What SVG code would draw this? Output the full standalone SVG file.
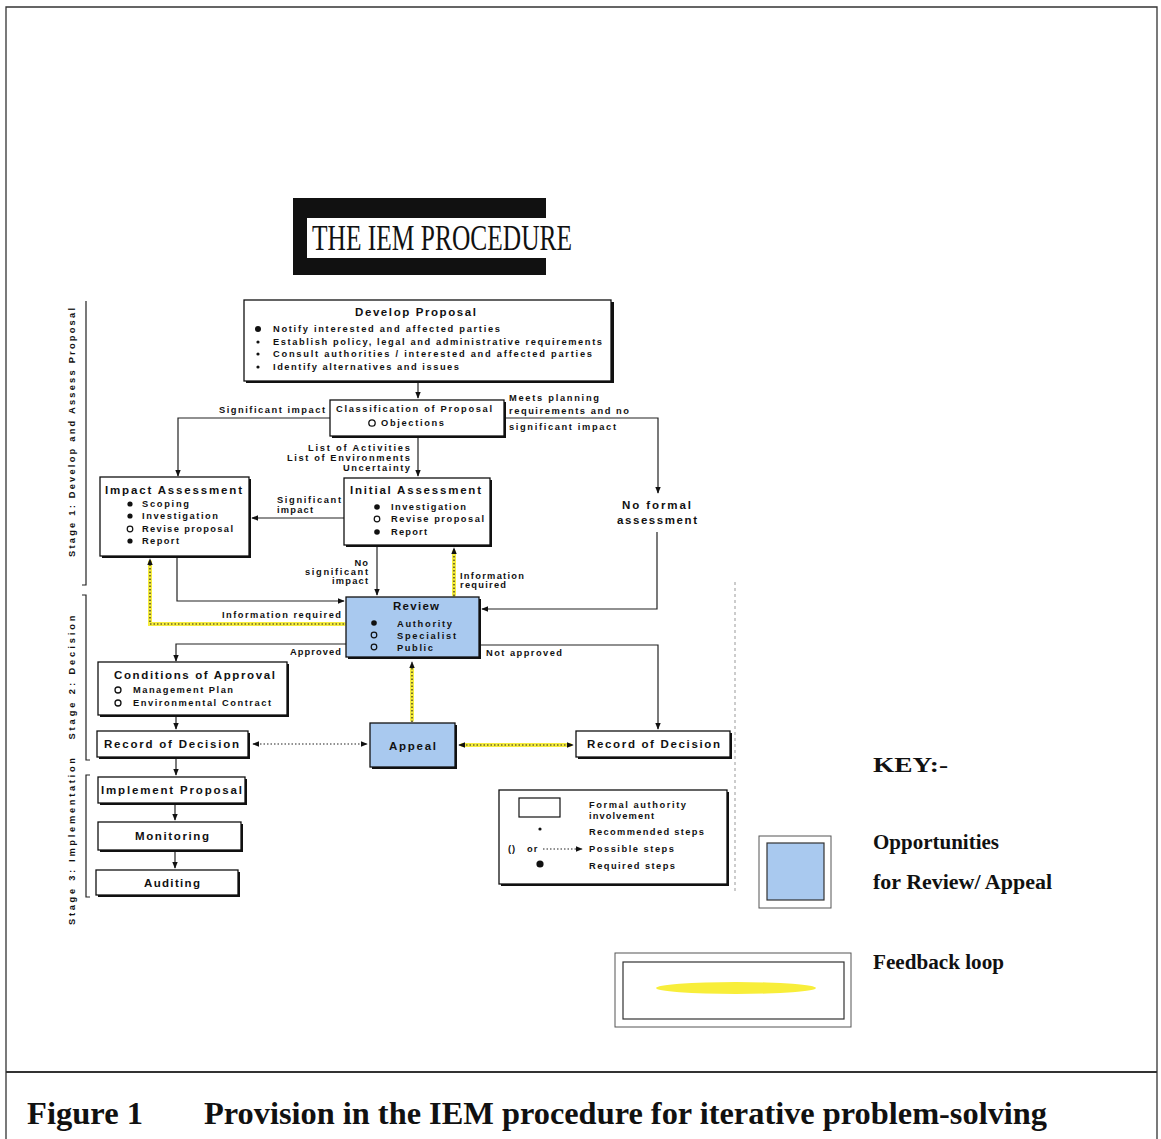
<svg xmlns="http://www.w3.org/2000/svg" width="1161" height="1139" viewBox="0 0 1161 1139">
<defs>
<style>
.t{font-family:"Liberation Sans",Arial,sans-serif;font-weight:bold;font-size:9.3px;fill:#111;letter-spacing:1px}
.h{font-family:"Liberation Sans",Arial,sans-serif;font-weight:bold;font-size:11.5px;fill:#111;letter-spacing:1px}
.s{font-family:"Liberation Serif","Times New Roman",serif;font-weight:bold;fill:#111}
.box{fill:#fff;stroke:#111;stroke-width:1.3}
.blue{fill:#a9c9ef;stroke:#111;stroke-width:1.3}
.sh{fill:#111}
.ln{fill:none;stroke:#222;stroke-width:1.2}
.dot{fill:none;stroke:#222;stroke-width:1.2;stroke-dasharray:1.5 2}
.yel{fill:none;stroke:#f4ea2a;stroke-width:4;stroke-linecap:round;opacity:0.9}
</style>
<marker id="ar" viewBox="0 0 10 10" refX="9" refY="5" markerWidth="6" markerHeight="6" orient="auto-start-reverse">
<path d="M0,1 L10,5 L0,9 z" fill="#111"/>
</marker>
</defs>
<rect width="1161" height="1139" fill="#fff"/>
<g id="frame" fill="none" stroke="#333" stroke-width="1.3">
<path d="M6 1139 V7 H1157 V1139"/>
<line x1="6" y1="1072" x2="1157" y2="1072" stroke-width="1.8"/>
<line x1="735" y1="582" x2="735" y2="892" stroke="#999" stroke-width="1" stroke-dasharray="3 3"/>
</g>
<g id="title">
<rect x="293" y="198" width="253" height="77" fill="#111"/>
<rect x="307" y="218" width="266" height="40" fill="#fff"/>
<text x="312" y="250" font-family="'Liberation Serif','Times New Roman',serif" font-size="36" fill="#111" textLength="260" lengthAdjust="spacingAndGlyphs">THE IEM PROCEDURE</text>
</g>
<g id="stages">
<path class="ln" d="M86 301 V585 H82"/>
<path class="ln" d="M82 595 H86 V760 H90"/>
<path class="ln" d="M90 775 H86 V897 H90"/>
<text class="t" transform="translate(75 432) rotate(-90)" text-anchor="middle" textLength="250" lengthAdjust="spacing">Stage 1: Develop and Assess Proposal</text>
<text class="t" transform="translate(75 677) rotate(-90)" text-anchor="middle" textLength="125" lengthAdjust="spacing">Stage 2: Decision</text>
<text class="t" transform="translate(75 841) rotate(-90)" text-anchor="middle" textLength="168" lengthAdjust="spacing">Stage 3: Implementation</text>
</g>
<g id="connectors">
<path class="ln" d="M418 382 V398" marker-end="url(#ar)"/>
<path class="ln" d="M330 418 H178 V476" marker-end="url(#ar)"/>
<path class="ln" d="M504 418 H658 V493" marker-end="url(#ar)"/>
<path class="ln" d="M418 436 V476" marker-end="url(#ar)"/>
<path class="ln" d="M344 518 H252" marker-end="url(#ar)"/>
<path class="ln" d="M657 532 V609 H482" marker-end="url(#ar)"/>
<path class="ln" d="M377 546 V595" marker-end="url(#ar)"/>
<path class="ln" d="M177 556 V601 H344" marker-end="url(#ar)"/>
<path class="yel" d="M344 624 H150 V562"/>
<path class="dot" d="M344 624 H150 V559" marker-end="url(#ar)"/>
<path class="yel" d="M454 595 V552"/>
<path class="dot" d="M454 596 V548" marker-end="url(#ar)"/>
<path class="ln" d="M346 644 H176 V661" marker-end="url(#ar)"/>
<path class="ln" d="M480 645 H658 V729" marker-end="url(#ar)"/>
<path class="ln" d="M176 716 V729" marker-end="url(#ar)"/>
<path class="ln" d="M176 757 V775" marker-end="url(#ar)"/>
<path class="ln" d="M175 804 V820" marker-end="url(#ar)"/>
<path class="ln" d="M175 852 V868" marker-end="url(#ar)"/>
<path class="dot" d="M253 744 H367" marker-start="url(#ar)" marker-end="url(#ar)"/>
<path class="yel" d="M462 745 H570"/>
<path class="dot" d="M459 745 H573" marker-start="url(#ar)" marker-end="url(#ar)"/>
<path class="yel" d="M412 720 V667"/>
<path class="dot" d="M412 722 V662" marker-end="url(#ar)"/>
<text class="t" x="326" y="413" text-anchor="end" textLength="107">Significant impact</text>
<text class="t" x="509" y="401" textLength="91">Meets planning</text>
<text class="t" x="509" y="414" textLength="121">requirements and no</text>
<text class="t" x="509" y="430" textLength="108">significant impact</text>
<text class="t" x="411" y="451" text-anchor="end" textLength="103">List of Activities</text>
<text class="t" x="411" y="461" text-anchor="end" textLength="124">List of Environments</text>
<text class="t" x="411" y="471" text-anchor="end" textLength="68">Uncertainty</text>
<text class="t" x="277" y="503" textLength="65">Significant</text>
<text class="t" x="277" y="513" textLength="37">impact</text>
<text class="t" x="369" y="566" text-anchor="end">No</text>
<text class="t" x="369" y="575" text-anchor="end" textLength="64">significant</text>
<text class="t" x="369" y="584" text-anchor="end" textLength="37">impact</text>
<text class="t" x="460" y="579" textLength="65">Information</text>
<text class="t" x="460" y="588" textLength="47">required</text>
<text class="t" x="222" y="618" textLength="120">Information required</text>
<text class="t" x="342" y="655" text-anchor="end" textLength="52">Approved</text>
<text class="t" x="486" y="656" textLength="77">Not approved</text>
</g>
<g id="develop-proposal">
<rect class="sh" x="246" y="302" width="368" height="81"/>
<rect class="box" x="244" y="300" width="367" height="81"/>
<text class="h" x="355" y="316" textLength="122">Develop Proposal</text>
<circle cx="258" cy="329" r="3" fill="#111"/>
<circle cx="258" cy="342" r="1.6" fill="#111"/>
<circle cx="258" cy="354" r="1.6" fill="#111"/>
<circle cx="258" cy="367" r="1.6" fill="#111"/>
<text class="t" x="273" y="332" textLength="228">Notify interested and affected parties</text>
<text class="t" x="273" y="345" textLength="330">Establish policy, legal and administrative requirements</text>
<text class="t" x="273" y="357" textLength="320">Consult authorities / interested and affected parties</text>
<text class="t" x="273" y="370" textLength="187">Identify alternatives and issues</text>
</g>
<g id="classification">
<rect class="sh" x="332" y="402" width="174" height="36"/>
<rect class="box" x="330" y="400" width="174" height="36"/>
<text class="t" x="336" y="412" textLength="157">Classification of Proposal</text>
<circle cx="372" cy="423" r="3.2" fill="none" stroke="#111" stroke-width="1.3"/>
<text class="t" x="381" y="426" textLength="64">Objections</text>
</g>
<g id="impact-assessment">
<rect class="sh" x="102" y="479" width="149" height="79"/>
<rect class="box" x="100" y="477" width="149" height="79"/>
<text class="h" x="105" y="494" textLength="138">Impact Assessment</text>
<circle cx="130" cy="504" r="2.6" fill="#111"/>
<circle cx="130" cy="516" r="2.6" fill="#111"/>
<circle cx="130" cy="529" r="2.8" fill="none" stroke="#111" stroke-width="1.2"/>
<circle cx="130" cy="541" r="2.6" fill="#111"/>
<text class="t" x="142" y="507" textLength="48">Scoping</text>
<text class="t" x="142" y="519" textLength="77">Investigation</text>
<text class="t" x="142" y="532" textLength="92">Revise proposal</text>
<text class="t" x="142" y="544" textLength="38">Report</text>
</g>
<g id="initial-assessment">
<rect class="sh" x="346" y="480" width="146" height="67"/>
<rect class="box" x="344" y="478" width="146" height="67"/>
<text class="h" x="350" y="494" textLength="132">Initial Assessment</text>
<circle cx="377" cy="507" r="2.8" fill="#111"/>
<circle cx="377" cy="519" r="2.8" fill="none" stroke="#111" stroke-width="1.2"/>
<circle cx="377" cy="532" r="2.8" fill="#111"/>
<text class="t" x="391" y="510" textLength="76">Investigation</text>
<text class="t" x="391" y="522" textLength="94">Revise proposal</text>
<text class="t" x="391" y="535" textLength="37">Report</text>
</g>
<g id="no-formal-assessment">
<text class="h" x="622" y="509" textLength="70">No formal</text>
<text class="h" x="617" y="524" textLength="81">assessment</text>
</g>
<g id="review">
<rect class="sh" x="348" y="599" width="133" height="60"/>
<rect class="blue" x="346" y="597" width="133" height="60"/>
<text class="h" x="393" y="610" textLength="47">Review</text>
<circle cx="374" cy="623" r="2.8" fill="#111"/>
<circle cx="374" cy="635" r="2.8" fill="none" stroke="#111" stroke-width="1.2"/>
<circle cx="374" cy="647" r="2.8" fill="none" stroke="#111" stroke-width="1.2"/>
<text class="t" x="397" y="627" textLength="56">Authority</text>
<text class="t" x="397" y="639" textLength="60">Specialist</text>
<text class="t" x="397" y="651" textLength="37">Public</text>
</g>
<g id="conditions-of-approval">
<rect class="sh" x="100" y="664" width="189" height="53"/>
<rect class="box" x="98" y="662" width="189" height="53"/>
<text class="h" x="114" y="679" textLength="162">Conditions of Approval</text>
<circle cx="118" cy="690" r="3" fill="none" stroke="#111" stroke-width="1.3"/>
<circle cx="118" cy="703" r="3" fill="none" stroke="#111" stroke-width="1.3"/>
<text class="t" x="133" y="693" textLength="101">Management Plan</text>
<text class="t" x="133" y="706" textLength="139">Environmental Contract</text>
</g>
<g id="record-of-decision-left">
<rect class="sh" x="99" y="733" width="151" height="26"/>
<rect class="box" x="97" y="731" width="151" height="26"/>
<text class="h" x="104" y="748" textLength="136">Record of Decision</text>
</g>
<g id="appeal">
<rect class="sh" x="372" y="725" width="85" height="44"/>
<rect class="blue" x="370" y="723" width="85" height="44"/>
<text class="h" x="389" y="750" textLength="48">Appeal</text>
</g>
<g id="record-of-decision-right">
<rect class="sh" x="578" y="733" width="154" height="26"/>
<rect class="box" x="576" y="731" width="154" height="26"/>
<text class="h" x="587" y="748" textLength="134">Record of Decision</text>
</g>
<g id="implement-proposal">
<rect class="sh" x="100" y="779" width="147" height="26"/>
<rect class="box" x="98" y="777" width="147" height="26"/>
<text class="h" x="101" y="794" textLength="142">Implement Proposal</text>
</g>
<g id="monitoring">
<rect class="sh" x="100" y="824" width="143" height="28"/>
<rect class="box" x="98" y="822" width="143" height="28"/>
<text class="h" x="135" y="840" textLength="75">Monitoring</text>
</g>
<g id="auditing">
<rect class="sh" x="98" y="872" width="142" height="25"/>
<rect class="box" x="96" y="870" width="142" height="25"/>
<text class="h" x="144" y="887" textLength="57">Auditing</text>
</g>
<g id="legend">
<rect class="sh" x="501" y="792" width="228" height="94"/>
<rect class="box" x="499" y="790" width="228" height="94"/>
<rect x="519" y="798" width="41" height="19" fill="none" stroke="#111" stroke-width="1.2"/>
<circle cx="540" cy="829" r="1.6" fill="#111"/>
<text class="t" x="508" y="852">()</text>
<text class="t" x="527" y="852" font-size="7">or</text>
<path class="dot" d="M543 849 H582" marker-end="url(#ar)"/>
<circle cx="540" cy="864" r="3.6" fill="#111"/>
<text class="t" x="589" y="808" textLength="98">Formal authority</text>
<text class="t" x="589" y="819" textLength="66">involvement</text>
<text class="t" x="589" y="835" textLength="116">Recommended steps</text>
<text class="t" x="589" y="852" textLength="86">Possible steps</text>
<text class="t" x="589" y="869" textLength="87">Required steps</text>
</g>
<g id="key">
<text class="s" x="873" y="772" font-size="22" textLength="75" lengthAdjust="spacingAndGlyphs">KEY:-</text>
<rect x="759" y="836" width="72" height="72" fill="none" stroke="#555" stroke-width="1"/>
<rect x="767" y="843" width="57" height="57" fill="#a9c9ef" stroke="#333" stroke-width="1.2"/>
<text class="s" x="873" y="849" font-size="20" textLength="126" lengthAdjust="spacingAndGlyphs">Opportunities</text>
<text class="s" x="873" y="889" font-size="20" textLength="179" lengthAdjust="spacingAndGlyphs">for Review/ Appeal</text>
<rect x="615" y="953" width="236" height="74" fill="none" stroke="#555" stroke-width="1"/>
<rect x="623" y="962" width="221" height="57" fill="none" stroke="#333" stroke-width="1.2"/>
<ellipse cx="736" cy="988" rx="80" ry="6" fill="#f8ee3a"/>
<text class="s" x="873" y="969" font-size="20" textLength="131" lengthAdjust="spacingAndGlyphs">Feedback loop</text>
</g>
<g id="caption">
<text class="s" x="27" y="1124" font-size="32" textLength="116" lengthAdjust="spacingAndGlyphs">Figure 1</text>
<text class="s" x="204" y="1124" font-size="32" textLength="843" lengthAdjust="spacingAndGlyphs">Provision in the IEM procedure for iterative problem-solving</text>
</g>
</svg>
